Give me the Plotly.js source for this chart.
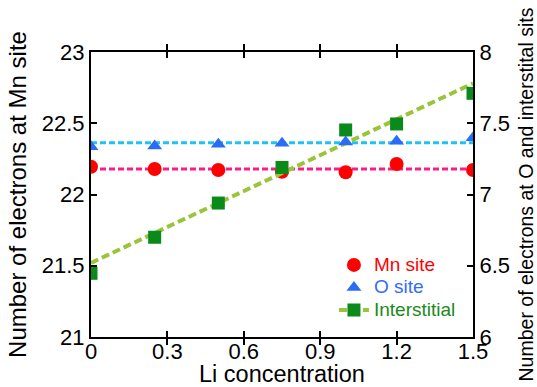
<!DOCTYPE html>
<html>
<head>
<meta charset="utf-8">
<script src="https://cdn.plot.ly/plotly-3.0.1.min.js"></script>
<style>html,body{margin:0;padding:0;background:#fff;}#chart{width:537px;height:387px;}</style>
</head>
<body>
<div id="chart"></div>
<script>
// Li concentration (x)
var liConc = [0, 0.25, 0.5, 0.75, 1.0, 1.2, 1.5];
// Number of electrons at Mn site (left axis)
var mnSite = [22.195, 22.179, 22.172, 22.16, 22.156, 22.214, 22.172];
// Number of electrons at O site (right axis)
var oSite = [7.335, 7.34, 7.352, 7.359, 7.368, 7.373, 7.399];
// Number of electrons at interstitial sites (right axis)
var interstitial = [6.447, 6.70, 6.94, 7.19, 7.453, 7.495, 7.71];
// Fit lines (endpoints)
var fitX = [0, 1.5];
var mnFit = [22.179, 22.179];
var oFit = [7.364, 7.364];
var interFit = [6.52, 7.78];
// Tick labels
var xTicks = [0, 0.3, 0.6, 0.9, 1.2, 1.5];
var yLeftTicks = [21, 21.5, 22, 22.5, 23];
var yRightTicks = [6, 6.5, 7, 7.5, 8];

var FONT = 'Liberation Sans, Arial, sans-serif';

function legendName(txt, color) {
  return '<span style="color:' + color + ';font-size:19px">' + txt + '</span>';
}

var traces = [
  {x: fitX, y: mnFit, mode: 'lines', yaxis: 'y', showlegend: false, hoverinfo: 'skip',
   line: {color: '#ff1a8c', width: 3, dash: '6px,3px'}},
  {x: fitX, y: oFit, mode: 'lines', yaxis: 'y2', showlegend: false, hoverinfo: 'skip',
   line: {color: '#1ec3f2', width: 3, dash: '6px,3px'}},
  {x: fitX, y: interFit, mode: 'lines', yaxis: 'y2', showlegend: false, hoverinfo: 'skip',
   line: {color: '#9ac43a', width: 4, dash: '8px,4px'}},
  {x: liConc, y: mnSite, mode: 'markers', yaxis: 'y', name: legendName('Mn site', '#ff0000'),
   marker: {symbol: 'circle', size: 14, color: '#ff0000'}},
  {x: liConc, y: oSite, mode: 'markers', yaxis: 'y2', name: legendName('O site', '#2f6bff'),
   marker: {symbol: 'triangle-up', size: 13, color: '#2a6cf5'}},
  {x: liConc, y: interstitial, mode: 'markers', yaxis: 'y2', showlegend: false,
   marker: {symbol: 'square', size: 13, color: '#0a8a1a'}},
  {x: [null], y: [null], mode: 'lines+markers', yaxis: 'y2', name: legendName('Interstitial', '#1a8a1a'),
   line: {color: '#9ac43a', width: 4, dash: '8px,4px'},
   marker: {symbol: 'square', size: 13, color: '#0a8a1a'}}
];

var layout = {
  width: 537, height: 387,
  margin: {l: 91, r: 64, t: 52, b: 50},
  paper_bgcolor: '#fff', plot_bgcolor: '#fff',
  font: {family: FONT, color: '#000', size: 22},
  showlegend: true,
  legend: {x: 0.636, y: 0.31, xanchor: 'left', yanchor: 'top', bgcolor: 'rgba(0,0,0,0)',
           font: {size: 15, family: FONT}, tracegroupgap: 0, itemwidth: 30},
  xaxis: {
    range: [0, 1.5], tickvals: xTicks, ticktext: xTicks.map(String),
    showline: true, linecolor: '#000', linewidth: 2, mirror: 'allticks',
    ticks: 'inside', ticklen: 6, tickwidth: 2, tickcolor: '#000',
    showgrid: false, zeroline: false, ticklabelstandoff: -6,
    tickfont: {size: 22, family: FONT},
    title: {text: 'Li concentration', font: {size: 23.5, family: FONT}, standoff: 12}
  },
  yaxis: {
    range: [21, 23], tickvals: yLeftTicks, ticktext: yLeftTicks.map(String),
    showline: true, linecolor: '#000', linewidth: 2,
    ticks: 'inside', ticklen: 6, tickwidth: 2, tickcolor: '#000',
    showgrid: false, zeroline: false,
    tickfont: {size: 22, family: FONT},
    title: {text: 'Number of electrons at Mn site', font: {size: 24, family: FONT}, standoff: 8}
  },
  yaxis2: {
    range: [6, 8], tickvals: yRightTicks, ticktext: yRightTicks.map(String),
    overlaying: 'y', side: 'right',
    showline: true, linecolor: '#000', linewidth: 2,
    ticks: 'inside', ticklen: 6, tickwidth: 2, tickcolor: '#000',
    showgrid: false, zeroline: false,
    tickfont: {size: 22, family: FONT},
    title: {text: 'Number of electrons at O and interstital sits', font: {size: 19.5, family: FONT}, standoff: 14}
  }
};

Plotly.newPlot('chart', traces, layout, {displayModeBar: false, staticPlot: true});
</script>
</body>
</html>
